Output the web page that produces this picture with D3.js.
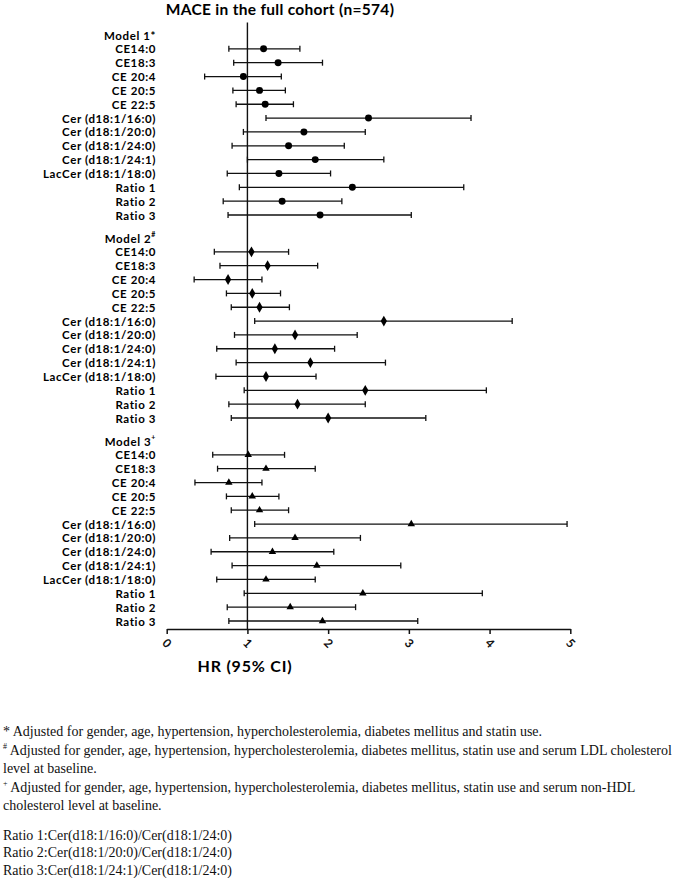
<!DOCTYPE html>
<html>
<head>
<meta charset="utf-8">
<script src="https://cdn.jsdelivr.net/npm/d3@7"></script>
<style>
  body { margin: 0; background: #fff; }
  svg { display: block; }
</style>
</head>
<body>
<div id="chart"></div>
<script>
// Rows shown under each model
const rowLabels = ["CE14:0", "CE18:3", "CE 20:4", "CE 20:5", "CE 22:5",
  "Cer (d18:1/16:0)", "Cer (d18:1/20:0)", "Cer (d18:1/24:0)", "Cer (d18:1/24:1)",
  "LacCer (d18:1/18:0)", "Ratio 1", "Ratio 2", "Ratio 3"];

const modelNames = ["Model 1", "Model 2", "Model 3"];
const modelMarks = ["*", "#", "+"];

// Model 1 (circles)
const m1HR = [1.20, 1.38, 0.95, 1.15, 1.22, 2.50, 1.70, 1.51, 1.84, 1.39, 2.30, 1.43, 1.90];
const m1Lo = [0.77, 0.83, 0.47, 0.82, 0.86, 1.23, 0.95, 0.81, 1.00, 0.75, 0.90, 0.70, 0.76];
const m1Hi = [1.65, 1.93, 1.42, 1.47, 1.57, 3.77, 2.46, 2.20, 2.69, 2.03, 3.68, 2.17, 3.03];

// Model 2 (diamonds)
const m2HR = [1.05, 1.25, 0.76, 1.06, 1.15, 2.69, 1.59, 1.34, 1.78, 1.23, 2.46, 1.62, 2.00];
const m2Lo = [0.59, 0.66, 0.34, 0.74, 0.80, 1.09, 0.84, 0.62, 0.86, 0.61, 0.96, 0.77, 0.80];
const m2Hi = [1.51, 1.87, 1.18, 1.41, 1.52, 4.28, 2.36, 2.08, 2.71, 1.85, 3.96, 2.46, 3.21];

// Model 3 (triangles)
const m3HR = [1.01, 1.23, 0.77, 1.06, 1.15, 3.03, 1.59, 1.31, 1.86, 1.23, 2.43, 1.53, 1.93];
const m3Lo = [0.57, 0.63, 0.35, 0.74, 0.80, 1.09, 0.78, 0.55, 0.81, 0.62, 0.96, 0.75, 0.77];
const m3Hi = [1.46, 1.84, 1.18, 1.39, 1.51, 4.96, 2.40, 2.07, 2.90, 1.84, 3.91, 2.34, 3.11];

const xTicks = [0, 1, 2, 3, 4, 5];

const chartTitle = "MACE in the full cohort (n=574)";
const axisTitle = "HR (95% CI)";

const footnotes = [
  { mark: "*", text: " Adjusted for gender, age, hypertension, hypercholesterolemia, diabetes mellitus and statin use.", sup: false },
  { mark: "#", text: " Adjusted for gender, age, hypertension, hypercholesterolemia, diabetes mellitus, statin use and serum LDL cholesterol", sup: true },
  { mark: "", text: "level at baseline.", sup: false },
  { mark: "+", text: " Adjusted for gender, age, hypertension, hypercholesterolemia, diabetes mellitus, statin use and serum non-HDL", sup: true },
  { mark: "", text: "cholesterol level at baseline.", sup: false }
];
const ratioNotes = [
  "Ratio 1:Cer(d18:1/16:0)/Cer(d18:1/24:0)",
  "Ratio 2:Cer(d18:1/20:0)/Cer(d18:1/24:0)",
  "Ratio 3:Cer(d18:1/24:1)/Cer(d18:1/24:0)"
];

const width = 697, height = 878;
const labelFont = "Lato, 'Open Sans', sans-serif";

const svg = d3.select("#chart").append("svg")
  .attr("width", width)
  .attr("height", height);

// build the model table
const models = modelNames.map(function(name, g) {
  const hr = [m1HR, m2HR, m3HR][g];
  const lo = [m1Lo, m2Lo, m3Lo][g];
  const hi = [m1Hi, m2Hi, m3Hi][g];
  return {
    name: name,
    mark: modelMarks[g],
    symbol: [d3.symbolCircle, d3.symbolDiamond, d3.symbolTriangle][g],
    size: [38, 34, 24][g],
    rows: rowLabels.map(function(l, i) {
      return { label: l, hr: hr[i], lo: lo[i], hi: hi[i], slot: g * 14.66 + i + 1 };
    }),
    slot: g * 14.66
  };
});

const xScale = d3.scaleLinear().domain([0, 5]).range([166.7, 570.3]);
const yScale = d3.scaleLinear().domain([0, 2 * 14.66 + 13]).range([35, 621]);
const axisY = 629;

// title
svg.append("text")
  .attr("x", 280)
  .attr("y", 15)
  .attr("text-anchor", "middle")
  .attr("font-family", labelFont)
  .attr("font-weight", "bold")
  .attr("font-size", 15.5)
  .attr("letter-spacing", 0.3)
  .text(chartTitle);

// reference line at HR = 1
svg.append("line")
  .attr("x1", xScale(1)).attr("x2", xScale(1))
  .attr("y1", 22.5).attr("y2", axisY)
  .attr("stroke", "#111")
  .attr("stroke-width", 1.4);

const groups = svg.selectAll("g.model")
  .data(models)
  .join("g")
  .attr("class", "model");

// model headers
const header = groups.append("text")
  .attr("x", 156)
  .attr("y", d => yScale(d.slot))
  .attr("text-anchor", "end")
  .attr("dominant-baseline", "central")
  .attr("font-family", labelFont)
  .attr("font-weight", "bold")
  .attr("font-size", 11.5)
  .attr("letter-spacing", 0.6);
header.append("tspan").text(d => d.name + (d.mark === "*" ? "*" : ""));
header.filter(d => d.mark !== "*").append("tspan")
  .attr("font-size", 7)
  .attr("dy", -4)
  .text(d => d.mark);

groups.each(function(m) {
  const g = d3.select(this);
  const rows = g.selectAll("g.row")
    .data(m.rows)
    .join("g")
    .attr("class", "row")
    .attr("transform", d => "translate(0," + yScale(d.slot) + ")");

  rows.append("text")
    .attr("x", 156)
    .attr("text-anchor", "end")
    .attr("dominant-baseline", "central")
    .attr("font-family", labelFont)
    .attr("font-weight", "bold")
    .attr("font-size", 11.5)
    .attr("letter-spacing", 0.6)
    .text(d => d.label);

  rows.append("line")
    .attr("x1", d => xScale(d.lo))
    .attr("x2", d => xScale(d.hi))
    .attr("stroke", "#111")
    .attr("stroke-width", 1.3);

  rows.append("line")
    .attr("x1", d => xScale(d.lo)).attr("x2", d => xScale(d.lo))
    .attr("y1", -3).attr("y2", 3)
    .attr("stroke", "#111")
    .attr("stroke-width", 1.3);

  rows.append("line")
    .attr("x1", d => xScale(d.hi)).attr("x2", d => xScale(d.hi))
    .attr("y1", -3).attr("y2", 3)
    .attr("stroke", "#111")
    .attr("stroke-width", 1.3);

  rows.append("path")
    .attr("transform", d => "translate(" + xScale(d.hr) + ",0)")
    .attr("d", d3.symbol().type(m.symbol).size(m.size))
    .attr("fill", "#000");
});

// x axis
const xAxis = d3.axisBottom(xScale)
  .tickValues(xTicks)
  .tickSize(5)
  .tickSizeOuter(0)
  .tickFormat(d3.format("d"));
const axisG = svg.append("g")
  .attr("transform", "translate(0," + axisY + ")")
  .call(xAxis);
axisG.select(".domain").attr("stroke", "#111").attr("stroke-width", 1.5);
axisG.selectAll(".tick line").attr("stroke", "#111").attr("stroke-width", 1.5);
axisG.selectAll(".tick text")
  .attr("y", 0)
  .attr("dy", 0)
  .attr("transform", "translate(0,14) rotate(45)")
  .attr("text-anchor", "middle")
  .attr("dominant-baseline", "central")
  .attr("font-family", labelFont)
  .attr("font-weight", "bold")
  .attr("font-size", 12)
  .attr("fill", "#111");

svg.append("text")
  .attr("x", 245)
  .attr("y", 665)
  .attr("text-anchor", "middle")
  .attr("dominant-baseline", "central")
  .attr("font-family", labelFont)
  .attr("font-weight", "bold")
  .attr("font-size", 16)
  .attr("letter-spacing", 0.8)
  .text(axisTitle);

// footnotes
const noteFont = "'Liberation Serif', 'Times New Roman', serif";
const noteY = [731.7, 750, 768.3, 786.7, 805];
footnotes.forEach(function(f, i) {
  const t = svg.append("text")
    .attr("x", 3)
    .attr("y", noteY[i])
    .attr("dominant-baseline", "central")
    .attr("font-family", noteFont)
    .attr("font-size", 14)
    .attr("fill", "#111");
  if (f.mark && f.sup) {
    t.append("tspan").attr("font-size", 8).attr("dy", -4).text(f.mark);
    t.append("tspan").attr("dy", 4).text(f.text);
  } else {
    t.text(f.mark + f.text);
  }
});

const ratioY = [835, 852.7, 870];
ratioNotes.forEach(function(r, i) {
  svg.append("text")
    .attr("x", 3)
    .attr("y", ratioY[i])
    .attr("dominant-baseline", "central")
    .attr("font-family", noteFont)
    .attr("font-size", 14)
    .attr("fill", "#111")
    .text(r);
});
</script>
</body>
</html>
